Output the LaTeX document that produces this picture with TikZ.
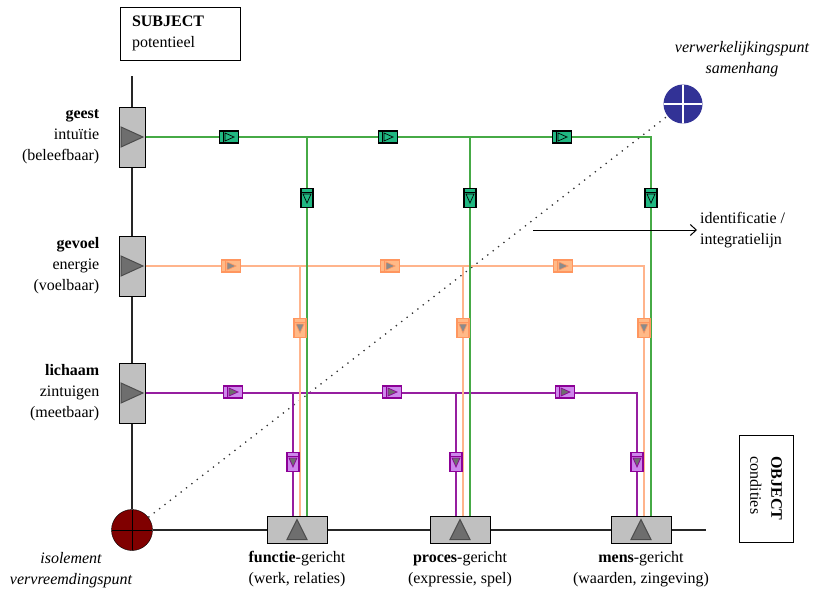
\documentclass[tikz,border=0pt]{standalone}
\usepackage{fontspec}
\setmainfont{Liberation Serif}
\usetikzlibrary{positioning,arrows.meta}

\definecolor{boxgray}{RGB}{192,192,192}
\definecolor{trigray}{RGB}{110,110,110}
\definecolor{gline}{RGB}{70,170,70}
\definecolor{gfill}{RGB}{32,184,130}
\definecolor{oline}{RGB}{255,180,140}
\definecolor{ofill}{RGB}{255,185,135}
\definecolor{oborder}{RGB}{255,150,95}
\definecolor{pline}{RGB}{150,30,160}
\definecolor{pfill}{RGB}{205,135,235}
\definecolor{pborder}{RGB}{140,0,150}
\definecolor{isored}{RGB}{128,0,0}
\definecolor{verwblue}{RGB}{50,50,150}

\newcommand{\diafont}{\fontsize{16}{21}\selectfont}

\tikzset{
  lbox/.style={draw, fill=boxgray, line width=1pt, minimum width=26pt, minimum height=60pt, inner sep=0pt,
    path picture={\filldraw[fill=trigray, draw=black!70]
      ([xshift=-11pt,yshift=10pt]path picture bounding box.center) -- ++(22pt,-10pt) -- ++(-22pt,-10pt) -- cycle;}},
  bbox/.style={draw, fill=boxgray, line width=1pt, minimum width=60pt, minimum height=27pt, inner sep=0pt,
    path picture={\filldraw[fill=trigray, draw=black!70]
      ([yshift=10.5pt]path picture bounding box.center) -- ++(10pt,-20pt) -- ++(-20pt,0pt) -- cycle;}},
  hcon/.style n args={3}{draw=#1, fill=#2, line width=1.3pt, minimum width=19pt, minimum height=12pt, inner sep=0pt,
    path picture={
      \draw[#1, line width=1pt] ([xshift=-5.5pt,yshift=6pt]path picture bounding box.center) -- ++(0pt,-12pt);
      \filldraw[fill=#3, draw=#1, line width=.7pt] ([xshift=-4pt,yshift=4pt]path picture bounding box.center)
        -- ++(9pt,-4pt) -- ++(-9pt,-4pt) -- cycle;}},
  vcon/.style n args={3}{draw=#1, fill=#2, line width=1.3pt, minimum width=12pt, minimum height=19pt, inner sep=0pt,
    path picture={
      \draw[#1, line width=1pt] ([xshift=-6pt,yshift=5.5pt]path picture bounding box.center) -- ++(12pt,0pt);
      \filldraw[fill=#3, draw=#1, line width=.7pt] ([xshift=-4pt,yshift=4pt]path picture bounding box.center)
        -- ++(8pt,0pt) -- ++(-4pt,-9pt) -- cycle;}},
  lbl/.style={inner sep=0pt, align=right},
  blbl/.style={inner sep=0pt, align=center},
  axis/.style={draw=black!85, line width=1.2pt},
  gwire/.style={draw=gline, line width=1.6pt},
  owire/.style={draw=oline, line width=1.6pt},
  pwire/.style={draw=pline, line width=1.6pt},
}

\begin{document}
\begin{tikzpicture}[x=1pt, y=-1pt, font=\diafont]
\useasboundingbox (0,0) rectangle (823,592);

% subject / object
\node[draw, line width=1pt, minimum width=120pt, minimum height=53pt, text width=96pt, inner xsep=12pt, align=left]
  (subject) at (180,33.5) {\textbf{SUBJECT}\\potentieel};
\node[draw, line width=1pt, rotate=-90, minimum width=107pt, minimum height=54pt, align=left]
  (object) at (766,488.5) {\textbf{OBJECT}\\condities};

% left axis
\coordinate (top) at (132,76);
\node[lbox] (geest)   at (132,137) {};
\node[lbox] (gevoel)  at (132,266) {};
\node[lbox] (lichaam) at (132,393) {};
\node[circle, draw=black, fill=isored, minimum size=41pt, inner sep=0pt,
  path picture={\draw[line width=1pt] (path picture bounding box.north) -- (path picture bounding box.south)
    (path picture bounding box.west) -- (path picture bounding box.east);}] (isol) at (132,530) {};

% bottom axis
\node[bbox] (functie) at (297,530) {};
\node[bbox] (proces)  at (460,530) {};
\node[bbox] (mens)    at (641,530) {};
\coordinate (end) at (706,530);

\draw[axis] (top) -- (geest) (geest) -- (gevoel) (gevoel) -- (lichaam) (lichaam) -- (isol)
  (isol) -- (functie) (functie) -- (proces) (proces) -- (mens) (mens) -- (end);

\node[circle, fill=verwblue, minimum size=39pt, inner sep=0pt,
  path picture={\draw[white, line width=1.2pt] (path picture bounding box.north) -- (path picture bounding box.south)
    (path picture bounding box.west) -- (path picture bounding box.east);}] (verw) at (683,104) {};

\draw[black!80, line width=1.3pt, dash pattern=on 1.3pt off 5.5pt] (isol) -- (verw);

% wires
\foreach \b in {functie,proces,mens} {
  \coordinate (\b p) at ([xshift=-4pt]\b.north);
  \coordinate (\b o) at ([xshift=3pt]\b.north);
  \coordinate (\b g) at ([xshift=10pt]\b.north);
}
\draw[pwire] (lichaam) -- (mensp |- lichaam) -- (mensp);
\draw[pwire] (functiep |- lichaam) -- (functiep);
\draw[pwire] (procesp |- lichaam) -- (procesp);
\draw[owire] (gevoel) -- (menso |- gevoel) -- (menso);
\draw[owire] (functieo |- gevoel) -- (functieo);
\draw[owire] (proceso |- gevoel) -- (proceso);
\draw[gwire] (geest) -- (mensg |- geest) -- (mensg);
\draw[gwire] (functieg |- geest) -- (functieg);
\draw[gwire] (procesg |- geest) -- (procesg);

% connectors on the wires
\foreach \x/\n in {229/1,388/2,562/3}
  \node[hcon={black}{gfill}{gfill}] (gh\n) at (\x,137) {};
\foreach \x/\n in {231/1,390/2,563/3}
  \node[hcon={oborder}{ofill}{trigray!80}] (oh\n) at (\x,266) {};
\foreach \x/\n in {233/1,392/2,565/3}
  \node[hcon={pborder}{pfill}{trigray}] (ph\n) at (\x,392) {};
\foreach \b in {functie,proces,mens} {
  \node[vcon={black}{gfill}{gfill}] (\b gv) at (\b g |- 0,198) {};
  \node[vcon={oborder}{ofill}{trigray!80}] (\b ov) at (\b o |- 0,328) {};
  \node[vcon={pborder}{pfill}{trigray}] (\b pv) at (\b p |- 0,462) {};
}

% labels
\node[lbl, left=19pt of geest]   {\textbf{geest}\\intuïtie\\(beleefbaar)};
\node[lbl, left=19pt of gevoel]  {\textbf{gevoel}\\energie\\(voelbaar)};
\node[lbl, left=19pt of lichaam] {\textbf{lichaam}\\zintuigen\\(meetbaar)};

\node[blbl, below=7pt of functie] {\textbf{functie}-gericht\\(werk, relaties)};
\node[blbl, below=7pt of proces]  {\textbf{proces}-gericht\\(expressie, spel)};
\node[blbl, below=7pt of mens]    {\textbf{mens}-gericht\\(waarden, zingeving)};

\node[blbl, font=\diafont\itshape] (isollbl) at (71,570) {isolement\\vervreemdingspunt};
\node[blbl, font=\diafont\itshape] (verwlbl) at (742,59) {verwerkelijkingspunt\\samenhang};

\coordinate (idstart) at (533,230);
\node[anchor=west, inner sep=3pt, align=left] (ident) at (697,230) {identificatie /\\integratielijn};
\draw[-{Straight Barb[length=6pt,width=11pt]}, line width=1pt] (idstart) -- (ident);
\end{tikzpicture}
\end{document}
